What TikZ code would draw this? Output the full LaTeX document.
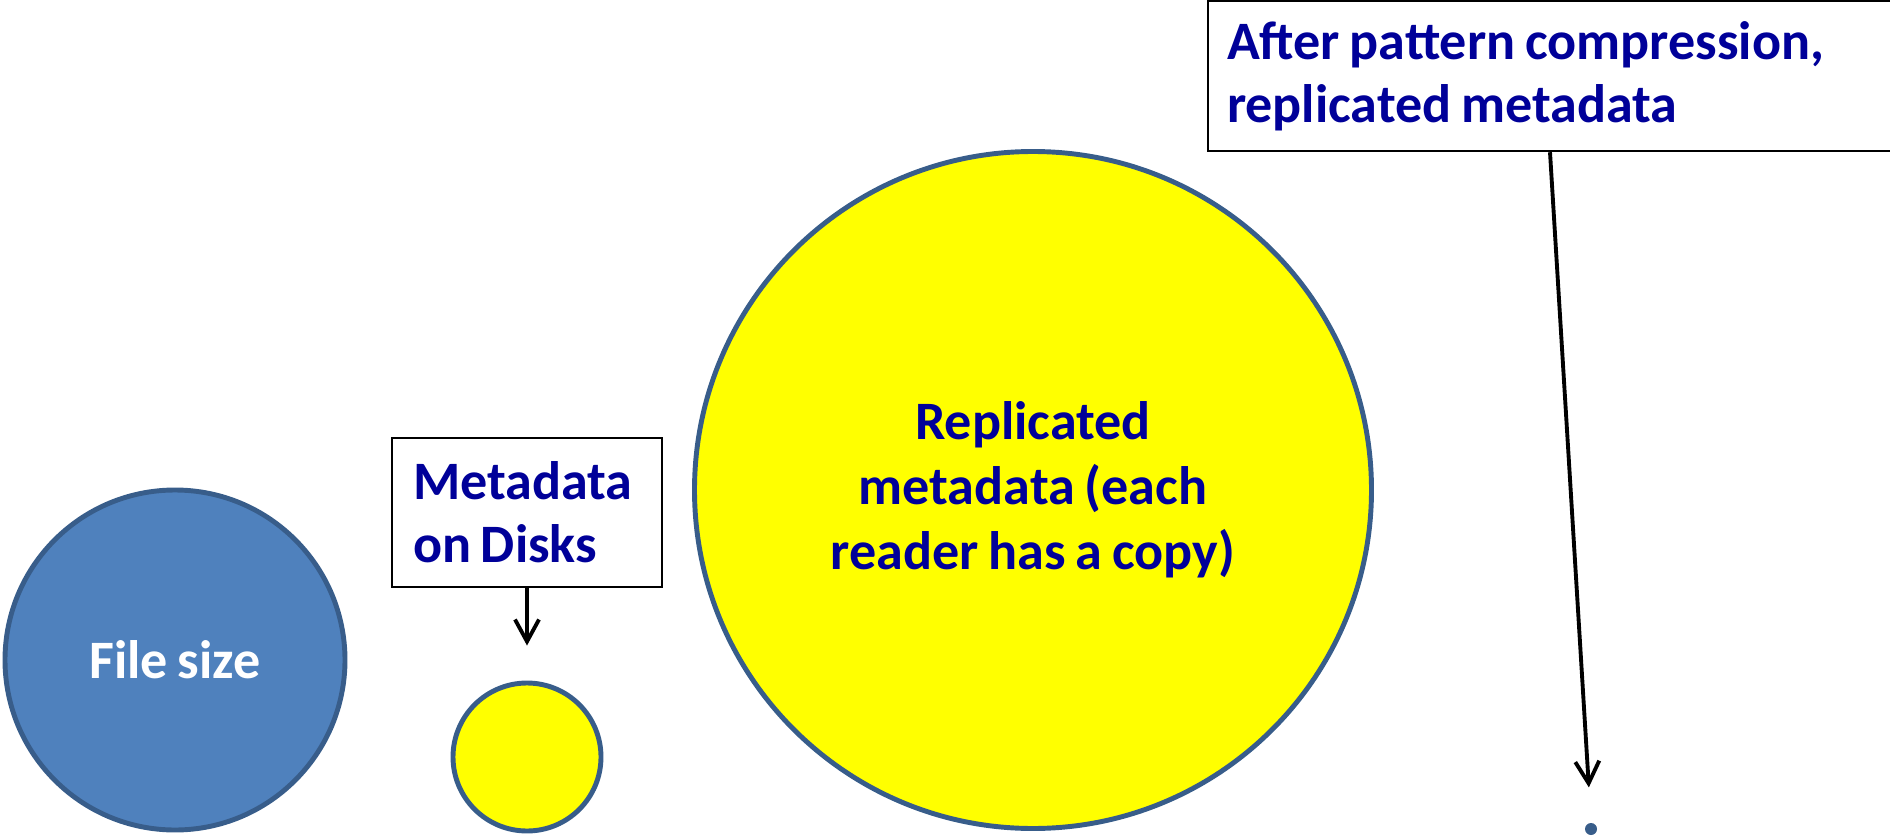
\documentclass[tikz,border=0pt]{standalone}
\usepackage{fontspec}
\setmainfont[WordSpace=0.8]{Carlito}
\usetikzlibrary{positioning,arrows.meta}
\definecolor{labelblue}{RGB}{0,0,153}
\definecolor{rimblue}{RGB}{56,93,138}
\definecolor{fileblue}{RGB}{79,129,189}
\definecolor{metayellow}{RGB}{255,255,0}

\begin{document}
\begin{tikzpicture}[
				disc/.style={circle, draw=rimblue, line width=1.4pt, inner sep=0pt, align=center, font=\bfseries\fontsize{15.4}{18.5}\selectfont},
				note/.style={rectangle, draw=black, line width=0.7pt, text=labelblue, align=flush left, inner ysep=0pt, font=\bfseries\fontsize{15.4}{17.9}\selectfont}
			]
			\useasboundingbox (0,0) rectangle (18.9,-8.37);
			\node[disc, fill=fileblue, text=white, minimum size=3.4cm] (filesize) at (1.75,-6.60) {File size};
			\node[disc, fill=metayellow, minimum size=1.48cm] (diskmeta) at (5.27,-7.57) {};
			\node[disc, fill=metayellow, text=labelblue, minimum size=6.77cm] (replmeta) at (10.33,-4.90) {Replicated\\metadata (each\\reader has a copy)};
			\node[circle, fill=rimblue, inner sep=0pt, minimum size=0.12cm] (compmeta) at (15.91,-8.29) {};
			\node[note, text width=2.28cm, inner xsep=0.21cm, minimum height=1.49cm] (diskbox) at (5.27,-5.125) {Metadata\\on Disks};
			\node[note, text width=6.46cm, inner xsep=0.19cm, minimum height=1.50cm] (afterbox) at (15.50,-0.76) {After pattern compression,\\replicated metadata};
			\begin{scope}[line width=1.1pt, -{Straight Barb[length=2.2mm,width=2.4mm]}, shorten >=0.35cm]
			\draw (diskbox.south) -- (diskmeta.north);
			\draw (afterbox.south) -- (compmeta.north);
			\end{scope}
			\end{tikzpicture}
\end{document}
